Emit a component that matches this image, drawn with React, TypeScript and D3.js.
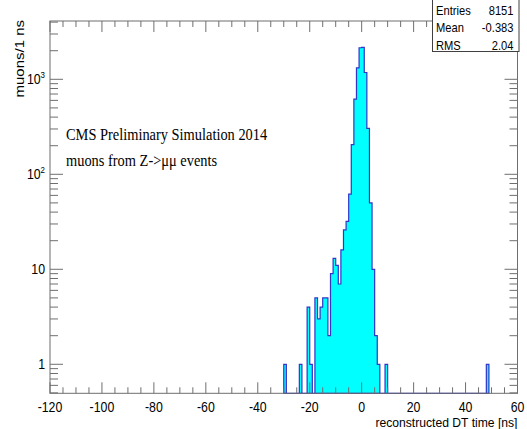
import React from 'react';
import * as d3 from 'd3';

// histogram: 1 ns bins, first bin starts at -30 ns
const binStart = -30;
const binWidth = 1;
const counts = [
  1, 0, 0, 0, 0, 0, 1, 0, 0, 4,
  1, 0, 5, 3, 4, 5, 5, 2, 9, 13,
  11, 7, 16, 26, 32, 62, 205, 620, 1320, 2150,
  2170, 1180, 305, 50, 10, 2, 1, 0, 0, 1,
  0, 0, 0, 0, 0, 0, 0, 0, 0, 0,
  0, 0, 0, 0, 0, 0, 0, 0, 0, 0,
  0, 0, 0, 0, 0, 0, 0, 0, 0, 0,
  0, 0, 0, 0, 0, 0, 0, 0, 1,
];

const xTicks = [-120, -100, -80, -60, -40, -20, 0, 20, 40, 60];
const yTicks = [1, 10, 100, 1000];
const yTickLabels = [['1', ''], ['10', ''], ['10', '2'], ['10', '3']];

const statLabels = ['Entries', 'Mean', 'RMS'];
const statValues = ['8151', '-0.383', '2.04'];

const textLines = ['CMS Preliminary Simulation 2014', 'muons from Z->\u03bc\u03bc events'];

const W = 527;
const H = 429;
const frame = { left: 50, right: 517.5, top: 21, bottom: 393.3 };
const axisColor = '#6f6f6f';
const sans = '"Liberation Sans", Arial, sans-serif';
const squeeze = 0.88;

export default function App() {
  const x = d3.scaleLinear().domain([-120, 60]).range([frame.left, frame.right]);
  const y = d3.scaleLog().domain([0.495, 4110]).range([frame.bottom, frame.top]);

  // histogram as a stepped area
  const bins = counts.map((v, i) => ({ lo: binStart + i * binWidth, v }));
  bins.push({ lo: binStart + counts.length * binWidth, v: 0 });
  const area = d3
    .area<{ lo: number; v: number }>()
    .curve(d3.curveStepAfter)
    .x((d) => x(d.lo))
    .y0(frame.bottom)
    .y1((d) => (d.v > 0 ? y(d.v) : frame.bottom));

  const xMinor = d3.range(-120, 61, 5).filter((v) => v % 20 !== 0);
  const yMinor: number[] = [];
  [0.1, 1, 10, 100, 1000].forEach((dec) => {
    for (let k = 2; k <= 9; k++) {
      const v = k * dec;
      if (v >= 0.5 && v <= 4110) yMinor.push(v);
    }
  });

  return (
    <svg
      width={W}
      height={H}
      style={{ position: 'absolute', left: 0, top: 0, background: '#fff' }}
    >
      <rect x={0} y={0} width={W} height={H} fill="#fff" />

      {/* histogram */}
      <path d={area(bins) || ''} fill="#00ffff" stroke="#3434c6" strokeWidth={1.2} />

      {/* frame */}
      <rect
        x={frame.left}
        y={frame.top}
        width={frame.right - frame.left}
        height={frame.bottom - frame.top}
        fill="none"
        stroke={axisColor}
        strokeWidth={1}
      />

      {/* x ticks bottom and top */}
      {xTicks.map((t) => (
        <g key={'xt' + t}>
          <line x1={x(t)} x2={x(t)} y1={frame.bottom} y2={frame.bottom - 11} stroke={axisColor} />
          <line x1={x(t)} x2={x(t)} y1={frame.top} y2={frame.top + 11} stroke={axisColor} />
          <g transform={`translate(${x(t)},411.5) scale(${squeeze},1)`}>
            <text textAnchor="middle" fontFamily={sans} fontSize={14} fill="#000">
              {t}
            </text>
          </g>
        </g>
      ))}
      {xMinor.map((t) => (
        <g key={'xm' + t}>
          <line x1={x(t)} x2={x(t)} y1={frame.bottom} y2={frame.bottom - 6} stroke={axisColor} />
          <line x1={x(t)} x2={x(t)} y1={frame.top} y2={frame.top + 6} stroke={axisColor} />
        </g>
      ))}

      {/* y ticks left and right */}
      {yTicks.map((t, i) => (
        <g key={'yt' + t}>
          <line x1={frame.left} x2={frame.left + 13} y1={y(t)} y2={y(t)} stroke={axisColor} />
          <line x1={frame.right} x2={frame.right - 13} y1={y(t)} y2={y(t)} stroke={axisColor} />
          <g transform={`translate(45,${y(t) + 5}) scale(${squeeze},1)`}>
            <text textAnchor="end" fontFamily={sans} fontSize={14} fill="#000">
              {yTickLabels[i][0]}
              {yTickLabels[i][1] && (
                <tspan fontSize={9} dy={-6}>
                  {yTickLabels[i][1]}
                </tspan>
              )}
            </text>
          </g>
        </g>
      ))}
      {yMinor.map((t) => (
        <g key={'ym' + t}>
          <line x1={frame.left} x2={frame.left + 8} y1={y(t)} y2={y(t)} stroke={axisColor} />
          <line x1={frame.right} x2={frame.right - 8} y1={y(t)} y2={y(t)} stroke={axisColor} />
        </g>
      ))}

      {/* axis titles */}
      <g transform={`translate(517.5,427) scale(0.9,1)`}>
        <text textAnchor="end" fontFamily={sans} fontSize={13.5} fill="#000">
          reconstructed DT time [ns]
        </text>
      </g>
      <g transform={`translate(24,20) scale(${squeeze},1) rotate(-90)`}>
        <text textAnchor="end" fontFamily={sans} fontSize={15} fill="#000">
          muons/1 ns
        </text>
      </g>

      {/* annotation */}
      {textLines.map((s, i) => (
        <g key={s} transform={`translate(66,${139.5 + i * 26}) scale(0.9,1)`}>
          <text fontFamily='"Liberation Serif", "Times New Roman", serif' fontSize={16} fill="#000">
            {s}
          </text>
        </g>
      ))}

      {/* stats box */}
      <rect x={432.5} y={-0.5} width={86.5} height={52} fill="#fff" stroke="#404040" strokeWidth={1} />
      {statLabels.map((s, i) => (
        <g key={s}>
          <g transform={`translate(436,${15 + i * 17.3}) scale(0.93,1)`}>
            <text fontFamily={sans} fontSize={12} fill="#000">
              {s}
            </text>
          </g>
          <g transform={`translate(513.5,${15 + i * 17.3}) scale(0.93,1)`}>
            <text textAnchor="end" fontFamily={sans} fontSize={12} fill="#000">
              {statValues[i]}
            </text>
          </g>
        </g>
      ))}
    </svg>
  );
}
